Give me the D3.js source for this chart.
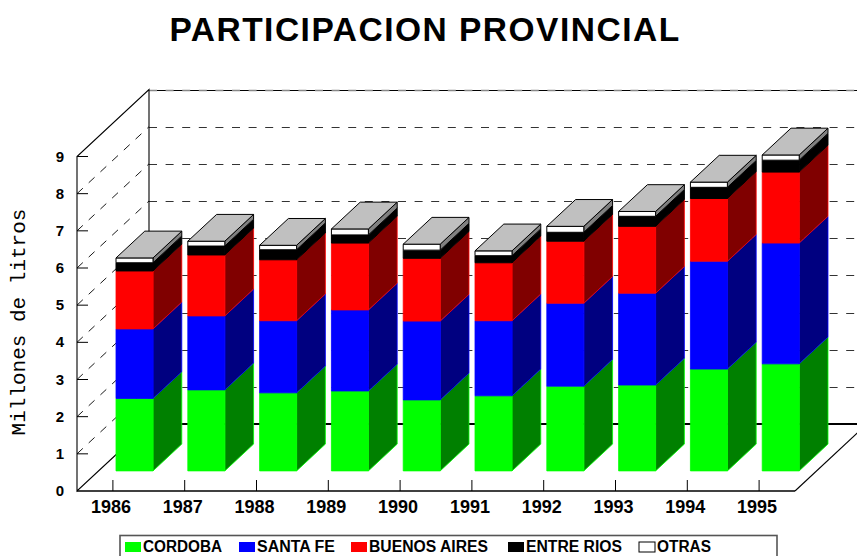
<!DOCTYPE html>
<html>
<head>
<meta charset="utf-8">
<script src="https://cdn.jsdelivr.net/npm/d3@7"></script>
<style>
html,body{margin:0;padding:0;background:#fff;overflow:hidden}
svg{display:block}
text{font-family:"Liberation Sans",Arial,sans-serif;font-weight:bold;fill:#000}
</style>
</head>
<body>
<script>
const years = ["1986","1987","1988","1989","1990","1991","1992","1993","1994","1995"];
const seriesNames = ["CORDOBA","SANTA FE","BUENOS AIRES","ENTRE RIOS","OTRAS"];
const cordoba = [1.95,2.18,2.10,2.15,1.91,2.02,2.28,2.31,2.74,2.88];
const santaFe = [1.87,1.99,1.94,2.18,2.12,2.02,2.23,2.47,2.90,3.25];
const buenosAires = [1.56,1.64,1.64,1.80,1.69,1.56,1.67,1.80,1.69,1.91];
const entreRios = [0.22,0.24,0.27,0.22,0.22,0.19,0.24,0.27,0.30,0.32];
const otras = [0.13,0.13,0.12,0.16,0.16,0.13,0.16,0.13,0.14,0.14];
const seriesValues = [cordoba,santaFe,buenosAires,entreRios,otras];
const frontColors = ["#00ff00","#0000ff","#ff0000","#000000","#ffffff"];
const sideColors = ["#008000","#000080","#800000","#000000","#808080"];
const yTicks = [0,1,2,3,4,5,6,7,8,9];

const W = 857, H = 556;
const svg = d3.select("body").append("svg").attr("width",W).attr("height",H);

const x = d3.scaleBand().domain(years).range([77,795]);
const y = d3.scaleLinear().domain([0,9]).range([491,156.5]);
const dx = d3.scaleLinear().domain([0,1]).range([0,72]);
const dy = d3.scaleLinear().domain([0,1]).range([0,-67]);
const barW = x.bandwidth()*0.515;
const depthFront = 0.3, depthBack = 0.7;

function P(px, v, d){ return [px+dx(d), y(v)+dy(d)]; }
const poly = pts => pts.map(p=>p.join(",")).join(" ");
const left = x.range()[0], right = x.range()[1];

// title
svg.append("text").attr("x",425).attr("y",41).attr("text-anchor","middle")
  .style("font-size","33.5px").style("letter-spacing","1.5px").text("PARTICIPACION PROVINCIAL");

// y title
svg.append("text").attr("transform","translate(25,322) rotate(-90)").attr("text-anchor","middle")
  .style("font-family","'Liberation Mono',monospace").style("font-weight","normal")
  .style("font-size","21px").text("Millones de litros");

// walls
const grid = svg.append("g");
yTicks.filter(t=>t>0).forEach(t=>{
  const backY = Math.round(P(left,t,1)[1]);
  if(t<9){
    grid.append("line").attr("x1",P(left,t,0)[0]).attr("y1",P(left,t,0)[1])
      .attr("x2",P(left,t,1)[0]).attr("y2",P(left,t,1)[1])
      .attr("stroke","#000").attr("stroke-width",0.9).attr("stroke-dasharray","8 8");
  }
  grid.append("line").attr("x1",P(left,t,1)[0]).attr("y1",backY+0.5)
    .attr("x2",W).attr("y2",backY+0.5)
    .attr("stroke",t===9?"#000":"#333").attr("stroke-width",1)
    .attr("stroke-dasharray",t===9?null:"8 8.6");
  grid.append("line").attr("x1",left).attr("x2",left+11).attr("y1",y(t)).attr("y2",y(t))
    .attr("stroke","#000").attr("stroke-width",1);
});
// grey dashes lie over the top back line
svg.append("line").attr("x1",P(left,9,1)[0]).attr("x2",W)
  .attr("y1",Math.round(P(left,9,1)[1])+0.5).attr("y2",Math.round(P(left,9,1)[1])+0.5)
  .attr("stroke","#888").attr("stroke-width",1.4).attr("stroke-dasharray","8 8.6");

const frame = svg.append("g").attr("fill","none").attr("stroke","#000");
frame.append("polyline").attr("stroke-width",1.1)
  .attr("points",poly([P(left,0,1),P(left,9,1),P(left,9,0),P(left,0,0),P(left,0,1)]));
frame.append("line").attr("stroke-width",2)
  .attr("x1",P(left,0,1)[0]).attr("y1",P(left,0,1)[1]).attr("x2",W).attr("y2",P(left,0,1)[1]);
frame.append("line").attr("stroke-width",1.1)
  .attr("x1",P(right,0,0)[0]).attr("y1",P(right,0,0)[1]).attr("x2",P(right,0,1)[0]).attr("y2",P(right,0,1)[1]);
frame.append("line").attr("stroke-width",1.6)
  .attr("x1",left).attr("y1",y(0)).attr("x2",right).attr("y2",y(0));

// x ticks
years.forEach(yr=>{
  const c = x(yr)+x.bandwidth()/2;
  svg.append("line").attr("x1",c).attr("x2",c).attr("y1",y(0)).attr("y2",y(0)-11)
    .attr("stroke","#000").attr("stroke-width",1);
  svg.append("text").attr("x",c-2).attr("y",513).attr("text-anchor","middle")
    .style("font-size","18px").text(yr);
});
// y labels
yTicks.forEach(t=>{
  svg.append("text").attr("x",64).attr("y",y(t)+5).attr("text-anchor","end")
    .style("font-size","15px").text(t);
});

// bars
const bars = svg.append("g");
years.forEach((yr,i)=>{
  const bx = x(yr)+(x.bandwidth()-barW)/2;
  let base = 0;
  seriesValues.forEach((vals,s)=>{
    const top = base+vals[i];
    const isTop = s===seriesValues.length-1;
    const strokeFront = s>=3 ? "#000" : frontColors[s];
    bars.append("polygon")
      .attr("points",poly([P(bx+barW,base,depthFront),P(bx+barW,top,depthFront),P(bx+barW,top,depthBack),P(bx+barW,base,depthBack)]))
      .attr("fill",sideColors[s]).attr("stroke",strokeFront).attr("stroke-width",s>=3?1:0.8).attr("stroke-linejoin","round");
    bars.append("polygon")
      .attr("points",poly([P(bx,base,depthFront),P(bx,top,depthFront),P(bx+barW,top,depthFront),P(bx+barW,base,depthFront)]))
      .attr("fill",frontColors[s]).attr("stroke",strokeFront).attr("stroke-width",s>=3?1:0.8);
    if(isTop){
      bars.append("polygon")
        .attr("points",poly([P(bx,top,depthFront),P(bx,top,depthBack),P(bx+barW,top,depthBack),P(bx+barW,top,depthFront)]))
        .attr("fill","#c0c0c0").attr("stroke","#000").attr("stroke-width",1).attr("stroke-linejoin","round");
    }
    base = top;
  });
});

// legend
const legendStart = [125,239,351,508,639];
const legendTextWidth = [79,78,119,96,54];
const lg = svg.append("g");
lg.append("rect").attr("x",120).attr("y",535.5).attr("width",657).attr("height",40)
  .attr("fill","#fff").attr("stroke","#555").attr("stroke-width",1.6);
seriesNames.forEach((name,s)=>{
  lg.append("rect").attr("x",legendStart[s]).attr("y",542).attr("width",16).attr("height",10)
    .attr("fill",frontColors[s]).attr("stroke",s===4?"#000":frontColors[s]).attr("stroke-width",s===4?1:0);
  lg.append("text").attr("x",legendStart[s]+18).attr("y",552).style("font-size","16px")
    .attr("textLength",legendTextWidth[s]).attr("lengthAdjust","spacingAndGlyphs").text(name);
});
</script>
</body>
</html>
